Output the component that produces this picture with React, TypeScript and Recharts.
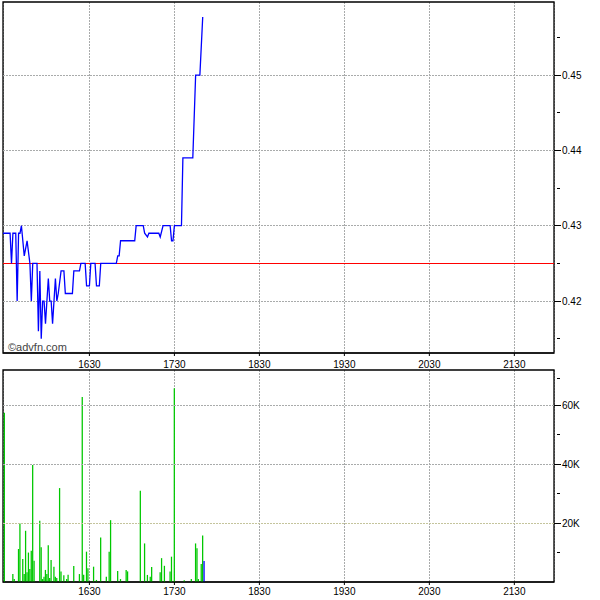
import React from 'react';
import {
  LineChart,
  Line,
  BarChart,
  Bar,
  Cell,
  XAxis,
  YAxis,
  CartesianGrid,
  ReferenceLine,
  ReferenceArea,
} from 'recharts';

// Session window in minutes since midnight (15:29 .. 21:58)
const SESSION_START = 929;
const SESSION_END = 1318;

// Price trace: minutes after SESSION_START and price
const priceOffsets = [
  0, 5, 6, 7, 9, 10, 11, 12, 13, 15, 17, 19, 20, 21, 24, 25, 26, 27, 28, 29,
  30, 32, 33, 34, 35, 37, 38, 39, 41, 43, 44, 49, 50, 54, 55, 58, 59, 61, 62,
  65, 66, 68, 69, 80, 81, 82, 83, 93, 94, 99, 100, 102, 103, 110, 111, 113,
  118, 119, 120, 121, 126, 127, 134, 136, 139, 141,
];
const priceValues = [
  0.429, 0.429, 0.425, 0.429, 0.429, 0.42, 0.429, 0.429, 0.43, 0.426, 0.428,
  0.425, 0.42, 0.425, 0.425, 0.416, 0.424, 0.415, 0.42, 0.42, 0.417, 0.423,
  0.42, 0.42, 0.417, 0.423, 0.42, 0.421, 0.424, 0.424, 0.421, 0.421, 0.424,
  0.424, 0.425, 0.425, 0.422, 0.422, 0.425, 0.425, 0.422, 0.422, 0.425, 0.425,
  0.426, 0.426, 0.428, 0.428, 0.43, 0.43, 0.429, 0.4285, 0.429, 0.429, 0.4285,
  0.43, 0.43, 0.428, 0.428, 0.43, 0.43, 0.439, 0.439, 0.45, 0.45, 0.4577,
];

// Volume bars: minutes after SESSION_START and traded volume
const volumeOffsets = [
  1, 7, 8, 11, 12, 14, 15, 16, 17, 18, 19, 20, 21, 22, 26, 27, 28, 29, 30, 31,
  32, 33, 34, 36, 37, 38, 40, 41, 43, 45, 46, 50, 54, 56, 57, 59, 60, 64, 66,
  69, 73, 75, 76, 81, 83, 87, 88, 97, 100, 102, 104, 105, 111, 112, 114, 118,
  119, 121, 128, 133, 136, 137, 138, 140, 141, 142,
];
const volumeValues = [
  57500, 2700, 1000, 11200, 19900, 7800, 2700, 17400, 3300, 10000, 4400, 10600,
  39700, 7200, 20800, 11800, 1000, 1800, 4100, 2700, 12500, 1400, 7500, 5200,
  1800, 1400, 31900, 3600, 2300, 1000, 2500, 5400, 2700, 62800, 2500, 10300,
  4700, 5200, 700, 15100, 1800, 10300, 21000, 3700, 1000, 4100, 3600, 31000,
  13100, 2400, 1800, 5100, 3300, 8100, 5500, 3600, 8600, 65800, 600, 1000,
  13100, 11500, 1000, 6100, 15800, 7100,
];

const timeTicks = [990, 1050, 1110, 1170, 1230, 1290];
const priceMajorTicks = [0.42, 0.43, 0.44, 0.45];
const priceAllTicks = [0.415, 0.42, 0.425, 0.43, 0.435, 0.44, 0.445, 0.45, 0.455];
const volumeMajorTicks = [20000, 40000, 60000];
const volumeAllTicks = [10000, 20000, 30000, 40000, 50000, 60000, 70000];
const previousClose = 0.425;
const priceDomain: [number, number] = [0.4131, 0.4597];
const volumeDomain: [number, number] = [0, 72000];

const priceData = priceOffsets.map((m, i) => ({ t: SESSION_START + m, p: priceValues[i] }));
const volumeData = volumeOffsets.map((m, i) => ({ t: SESSION_START + m, v: volumeValues[i] }));

const FONT = 'Liberation Sans, Arial, sans-serif';
const GRID = '#a9abab';

const fmtTime = (t: number) => `${Math.floor(t / 60)}${String(t % 60).padStart(2, '0')}`;
const fmtPrice = (v: number) => v.toFixed(2);
const fmtVol = (v: number) => `${Math.round(v / 1000)}K`;

function makeRightTick(majors: number[], fmt: (v: number) => string) {
  return (props: any) => {
    const { x, y, payload } = props;
    const v = payload.value;
    const isMajor = majors.some((m) => Math.abs(m - v) < 1e-9);
    return (
      <g>
        {isMajor ? (
          <line x1={x} x2={x + 7} y1={y} y2={y} stroke="#000" shapeRendering="crispEdges" />
        ) : (
          <line x1={x + 3} x2={x + 6} y1={y} y2={y} stroke="#000" shapeRendering="crispEdges" />
        )}
        {isMajor && (
          <text x={x + 8} y={y} dy="0.35em" fontSize={10} fontFamily={FONT} fill="#000">
            {fmt(v)}
          </text>
        )}
      </g>
    );
  };
}

const LeftTick = (props: any) => {
  const { x, y } = props;
  return <line x1={x} x2={x + 3} y1={y} y2={y} stroke="#000" shapeRendering="crispEdges" />;
};

const xTickStyle = { fontSize: 10, fontFamily: FONT, fill: '#000' };

export default function App() {
  const lastIdx = volumeData.length - 1;
  return (
    <div style={{ position: 'absolute', left: 0, top: 0, width: 600, height: 600, background: '#fff' }}>
      <div style={{ position: 'absolute', left: 0, top: 0 }}>
        <LineChart width={600} height={369} data={priceData} margin={{ top: 2, right: 0, left: 3, bottom: 0 }}>
          <CartesianGrid
            horizontal={false}
            stroke={GRID}
            strokeDasharray="2 1"
            xAxisId={0}
            yAxisId="r"
            shapeRendering="crispEdges"
          />
          <XAxis
            type="number"
            dataKey="t"
            domain={[SESSION_START, SESSION_END]}
            ticks={timeTicks}
            tickFormatter={fmtTime}
            allowDataOverflow
            height={16}
            tickSize={3}
            tickMargin={5}
            stroke="#000"
            tick={xTickStyle}
          />
          <YAxis
            yAxisId="l"
            orientation="left"
            width={0}
            mirror
            domain={priceDomain}
            ticks={priceAllTicks}
            allowDataOverflow
            tickSize={0}
            tickMargin={0}
            tickLine={false}
            axisLine={false}
            tick={LeftTick}
          />
          <YAxis
            yAxisId="r"
            orientation="right"
            width={46}
            domain={priceDomain}
            ticks={priceAllTicks}
            allowDataOverflow
            tickSize={0}
            tickMargin={0}
            tickLine={false}
            axisLine={false}
            tick={makeRightTick(priceMajorTicks, fmtPrice)}
          />
          {priceMajorTicks.map((v) => (
            <ReferenceLine
              key={v}
              yAxisId="r"
              y={v}
              stroke={GRID}
              strokeDasharray="2 1"
              shapeRendering="crispEdges"
            />
          ))}
          <ReferenceLine
            yAxisId="r"
            y={previousClose}
            stroke="#ff0000"
            strokeWidth={1}
            shapeRendering="crispEdges"
          />
          <Line
            yAxisId="r"
            type="linear"
            dataKey="p"
            stroke="#0000ff"
            strokeWidth={1.3}
            dot={false}
            isAnimationActive={false}
          />
          <ReferenceArea
            yAxisId="r"
            x1={SESSION_START}
            x2={SESSION_END}
            y1={priceDomain[0]}
            y2={priceDomain[1]}
            fill="none"
            stroke="#000"
            strokeWidth={1.3}
            fillOpacity={0}
          />
        </LineChart>
        <span
          style={{
            position: 'absolute',
            left: 8,
            top: 341,
            fontSize: 11,
            lineHeight: '13px',
            fontFamily: FONT,
            color: '#444',
          }}
        >
          ©advfn.com
        </span>
      </div>
      <div style={{ position: 'absolute', left: 0, top: 369 }}>
        <BarChart width={600} height={231} data={volumeData} margin={{ top: 1, right: 0, left: 3, bottom: 2 }}>
          <CartesianGrid
            horizontal={false}
            stroke={GRID}
            strokeDasharray="2 1"
            xAxisId={0}
            yAxisId="r"
            shapeRendering="crispEdges"
          />
          <XAxis
            type="number"
            dataKey="t"
            domain={[SESSION_START, SESSION_END]}
            ticks={timeTicks}
            tickFormatter={fmtTime}
            allowDataOverflow
            height={16}
            tickSize={3}
            tickMargin={3}
            stroke="#000"
            tick={xTickStyle}
          />
          <YAxis
            yAxisId="l"
            orientation="left"
            width={0}
            mirror
            domain={volumeDomain}
            ticks={volumeAllTicks}
            allowDataOverflow
            tickSize={0}
            tickMargin={0}
            tickLine={false}
            axisLine={false}
            tick={LeftTick}
          />
          <YAxis
            yAxisId="r"
            orientation="right"
            width={46}
            domain={volumeDomain}
            ticks={volumeAllTicks}
            allowDataOverflow
            tickSize={0}
            tickMargin={0}
            tickLine={false}
            axisLine={false}
            tick={makeRightTick(volumeMajorTicks, fmtVol)}
          />
          {volumeMajorTicks.map((v) => (
            <ReferenceLine
              key={v}
              yAxisId="r"
              y={v}
              stroke={v === 20000 ? '#c4c49c' : GRID}
              strokeDasharray="2 1"
              shapeRendering="crispEdges"
            />
          ))}
          <Bar yAxisId="r" dataKey="v" barSize={2} fill="#00c800" isAnimationActive={false}>
            {volumeData.map((d, i) => (
              <Cell key={d.t} fill={i === lastIdx ? '#0000ff' : '#00c800'} />
            ))}
          </Bar>
          <ReferenceArea
            yAxisId="r"
            x1={SESSION_START}
            x2={SESSION_END}
            y1={volumeDomain[0]}
            y2={volumeDomain[1]}
            fill="none"
            stroke="#000"
            strokeWidth={1.3}
            fillOpacity={0}
          />
        </BarChart>
      </div>
    </div>
  );
}
